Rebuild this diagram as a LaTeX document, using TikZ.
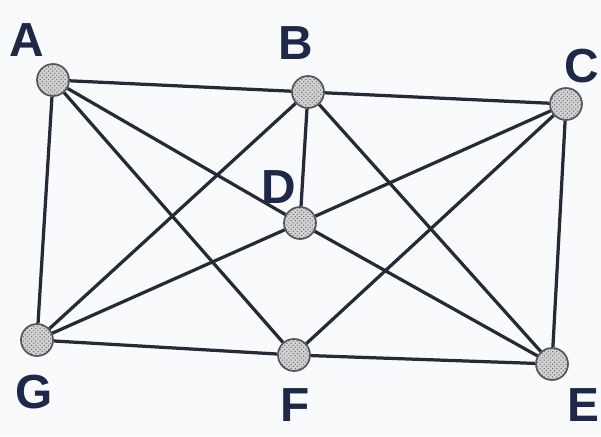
\documentclass[tikz,border=0pt]{standalone}
\usepackage{fontspec}
\setmainfont{Liberation Sans}
\definecolor{mInk}{RGB}{38,42,54}
\definecolor{mLabel}{RGB}{30,40,72}
\definecolor{mPaper}{RGB}{248,250,252}
\usetikzlibrary{patterns}

\begin{document}
\begin{tikzpicture}[x=0.025cm, y=-0.025cm,
    vertex/.style={circle, draw=mInk!80, line width=1.2pt, minimum size=0.8cm, inner sep=0pt,
      preaction={fill=gray!35}, pattern=crosshatch dots, pattern color=gray!85!black},
    edge/.style={mInk, line width=2.3pt},
    vlabel/.style={mLabel, font=\bfseries\fontsize{34}{34}\selectfont}]
    % Paper
    \fill[mPaper] (0,0) rectangle (601,436);
    \useasboundingbox (0,0) rectangle (601,436);

    % Vertices
    \node[vertex] (A) at (53,80) {};
    \node[vertex] (B) at (308,92) {};
    \node[vertex] (C) at (566,104) {};
    \node[vertex] (D) at (300,223) {};
    \node[vertex] (G) at (37,340) {};
    \node[vertex] (F) at (294,355) {};
    \node[vertex] (E) at (552,364) {};

    % Labels
    \node[vlabel] (lA) at (27,40) {A};
    \node[vlabel] (lB) at (296,43) {B};
    \node[vlabel] (lC) at (582,66) {C};
    \node[vlabel] (lD) at (279,187) {D};
    \node[vlabel] (lG) at (34,392) {G};
    \node[vlabel] (lF) at (295,405) {F};
    \node[vlabel] (lE) at (583,405) {E};

    % Outer frame
    \draw[edge] (A) -- (B);
    \draw[edge] (B) -- (C);
    \draw[edge] (C) -- (E);
    \draw[edge] (E) -- (F);
    \draw[edge] (F) -- (G);
    \draw[edge] (G) -- (A);

    % Spokes through D
    \foreach \v in {A,B,C,E,G}
      \draw[edge] (D) -- (\v);

    % Long diagonals
    \draw[edge] (A) -- (F);
    \draw[edge] (C) -- (F);
    \draw[edge] (B) -- (G);
    \draw[edge] (B) -- (E);
\end{tikzpicture}
\end{document}
